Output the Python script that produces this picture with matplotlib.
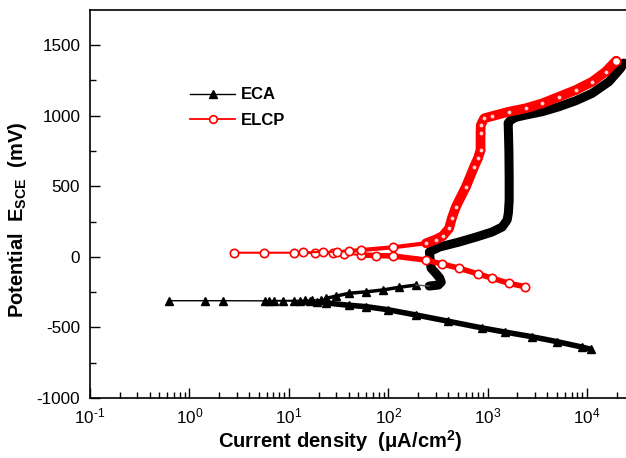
import numpy as np
import matplotlib
matplotlib.use("Agg")
import matplotlib.pyplot as plt
from matplotlib.ticker import LogLocator, FuncFormatter, MultipleLocator

plt.rcParams['font.family'] = ['Liberation Sans', 'DejaVu Sans']
plt.rcParams['mathtext.fontset'] = 'custom'
plt.rcParams['mathtext.rm'] = 'Liberation Sans'
plt.rcParams['mathtext.bf'] = 'Liberation Sans:bold'
plt.rcParams['mathtext.it'] = 'Liberation Sans:italic'
plt.rcParams['axes.unicode_minus'] = False

# ---------------- data (current density uA/cm2, potential mV) ----------------
# ECA: cathodic branch (from corrosion potential outward)
eca_cat_i = [0.62, 1.43, 2.16, 5.71, 7.03, 8.66, 11.2, 13.1, 16.2, 19.4, 23.9,
             40, 60, 100, 191, 400, 883, 1500, 2800, 5000, 8900, 10900]
eca_cat_e = [-311, -311, -311, -312, -313, -313, -314, -315, -316, -318, -327,
             -343, -353, -375, -412, -456, -504, -533, -566, -601, -639, -655]
# ECA: anodic branch
eca_an_i = [6.27, 14.7, 17.3, 21.3, 23.8, 30, 40.7, 60, 88, 129, 191,
            259, 320, 342, 330, 300, 270, 245, 236, 240, 260, 327, 519, 769,
            1112, 1403, 1575, 1620, 1650, 1650, 1640, 1620, 1611, 1714, 1924,
            2426, 3558, 5236, 7697, 11300, 16630, 21800, 23500]
eca_an_e = [-310, -308, -306, -303, -294, -278, -258, -248, -235, -216, -200,
            -207, -200, -180, -150, -115, -80, -40, -10, 15, 35, 69, 105, 140,
            176, 211, 261, 310, 400, 550, 750, 900, 948, 969, 988,
            1004, 1028, 1063, 1105, 1158, 1240, 1335, 1372]

# ELCP: cathodic branch
elcp_cat_i = [2.79, 5.62, 11.2, 18.5, 28, 36.3, 53.5, 75, 111, 240, 350,
              519, 800, 1120, 1648, 2388]
elcp_cat_e = [29, 29, 29, 27, 24, 22, 13, 9, 6, -23, -51,
              -81, -121, -152, -188, -212]
# ELCP: anodic branch
elcp_an_i = [14.0, 22.2, 30.7, 40.1, 53.5, 111, 240, 300, 353, 411, 437, 481,
             606, 733, 803, 850, 850, 855, 925, 1120, 1648, 2425, 3560, 5240,
             7700, 11300, 15400, 19700]
elcp_an_e = [32, 34, 36, 40, 48, 67, 96, 122, 147, 202, 273, 355,
             496, 638, 700, 756, 875, 933, 981, 997, 1028, 1052, 1087, 1134,
             1181, 1240, 1311, 1389]

x_ticks = [0.1, 1, 10, 100, 1000, 10000]
y_ticks = [-1000, -500, 0, 500, 1000, 1500]

# ---------------- figure ----------------
W, H = 626, 458
fig = plt.figure(figsize=(W / 100, H / 100), dpi=100)
ax = fig.add_axes([90 / W, (H - 398) / H, (W - 90) / W, 388 / H])

BLACK = 'black'
RED = '#ff0000'

def arr(a):
    return np.asarray(a, dtype=float)

# dense bands (overlapping markers in the original)
ci, ce = arr(eca_cat_i), arr(eca_cat_e)
m = ci >= 23
ax.plot(ci[m], ce[m], color=BLACK, lw=4.0, solid_capstyle='round', zorder=2)
ai, ae = arr(eca_an_i), arr(eca_an_e)
m = ai >= 250
m[:11] = False
ax.plot(ai[m], ae[m], color=BLACK, lw=6.5, solid_capstyle='round',
        solid_joinstyle='round', zorder=2)
seg_i, seg_e = ai[:11], ae[:11]
k = seg_i >= 23
ax.plot(seg_i[k], seg_e[k], color=BLACK, lw=2.5, zorder=2)

ax.plot(eca_cat_i, eca_cat_e, color=BLACK, lw=1.0, marker='^', ms=5.5,
        mfc=BLACK, mec=BLACK, zorder=3)
ax.plot(eca_an_i[:11], eca_an_e[:11], color=BLACK, lw=1.0, marker='^', ms=5.5,
        mfc=BLACK, mec=BLACK, zorder=3)
ax.plot(eca_an_i[10:12], eca_an_e[10:12], color='#555555', lw=1.0, zorder=3)

ri, re_ = arr(elcp_cat_i), arr(elcp_cat_e)
m = ri >= 50
ax.plot(ri[m], re_[m], color=RED, lw=4.0, solid_capstyle='round', zorder=4)
ui, ue = arr(elcp_an_i), arr(elcp_an_e)
m = ui >= 240
ax.plot(ui[m], ue[m], color=RED, lw=7.0, solid_capstyle='round',
        solid_joinstyle='round', zorder=4)
m = (ui >= 40) & (ui <= 240)
ax.plot(ui[m], ue[m], color=RED, lw=3.0, zorder=4)

# markers
ax.plot(elcp_cat_i, elcp_cat_e, color=RED, lw=1.5, marker='o', ms=6,
        mfc='white', mec=RED, mew=1.2, zorder=5)
sparse = ui < 240
ax.plot(ui[sparse], ue[sparse], color=RED, lw=1.5, marker='o', ms=6,
        mfc='white', mec=RED, mew=1.2, zorder=5)
ax.plot(ui[~sparse], ue[~sparse], ls='none', marker='o', ms=4.2,
        mfc='#ffd0d0', mec=RED, mew=1.4, zorder=5)
ax.plot(elcp_an_i[-1:], elcp_an_e[-1:], ls='none', marker='o', ms=6,
        mfc='white', mec=RED, mew=1.2, zorder=6)

# legend proxies
h1, = ax.plot([], [], color=BLACK, lw=1.0, marker='^', ms=5.5, mfc=BLACK, mec=BLACK)
h2, = ax.plot([], [], color=RED, lw=1.3, marker='o', ms=5.5, mfc='white', mec=RED, mew=1.2)
leg = ax.legend([h1, h2], ['ECA', 'ELCP'], loc='center left',
                bbox_to_anchor=(190 / W, 1 - 107.5 / H), bbox_transform=fig.transFigure,
                frameon=False, borderpad=0, borderaxespad=0, handlelength=2.7,
                handletextpad=0.35, labelspacing=0.62, numpoints=1,
                prop={'family': 'Liberation Sans', 'weight': 'bold', 'size': 12})

# axes
ax.set_xscale('log')
ax.set_xlim(0.1, 10 ** 4.393)
ax.set_ylim(-1000, 1748)
ax.set_xticks(x_ticks)

def fmt_pow(v, pos):
    e = int(round(np.log10(v)))
    s = str(e).replace('-', r'\text{-}')
    return r'$\mathregular{10^{%s}}$' % s

ax.xaxis.set_major_formatter(FuncFormatter(fmt_pow))
ax.xaxis.set_minor_locator(LogLocator(base=10, subs=np.arange(2, 10), numticks=20))
ax.set_yticks(y_ticks)
ax.yaxis.set_minor_locator(MultipleLocator(250))

ax.tick_params(axis='both', which='major', direction='in', length=7, width=1,
               labelsize=12.3, top=False, right=False)
ax.tick_params(axis='both', which='minor', direction='in', length=4, width=1,
               top=False, right=False)
ax.tick_params(axis='y', which='major', pad=7)
ax.tick_params(axis='x', which='major', pad=6)
for s in ['left', 'bottom', 'top']:
    ax.spines[s].set_linewidth(1.2)
ax.spines['right'].set_visible(False)

ax.set_xlabel('Current density  (μA/cm$^{\\mathbf{2}}$)', fontsize=14.5,
              fontweight='bold')
ax.xaxis.set_label_coords((340 - 90) / (W - 90), (398 - 441) / 388)
ax.xaxis.label.set_va('center')
ax.set_ylabel('Potential  $\\mathbf{E_{SCE}}$  (mV)', fontsize=14.5,
              fontweight='bold')
ax.yaxis.set_label_coords((18 - 90) / (W - 90), (398 - 220) / 388)
ax.yaxis.label.set_va('center')

fig.savefig('out.png', dpi=100, facecolor='white')
